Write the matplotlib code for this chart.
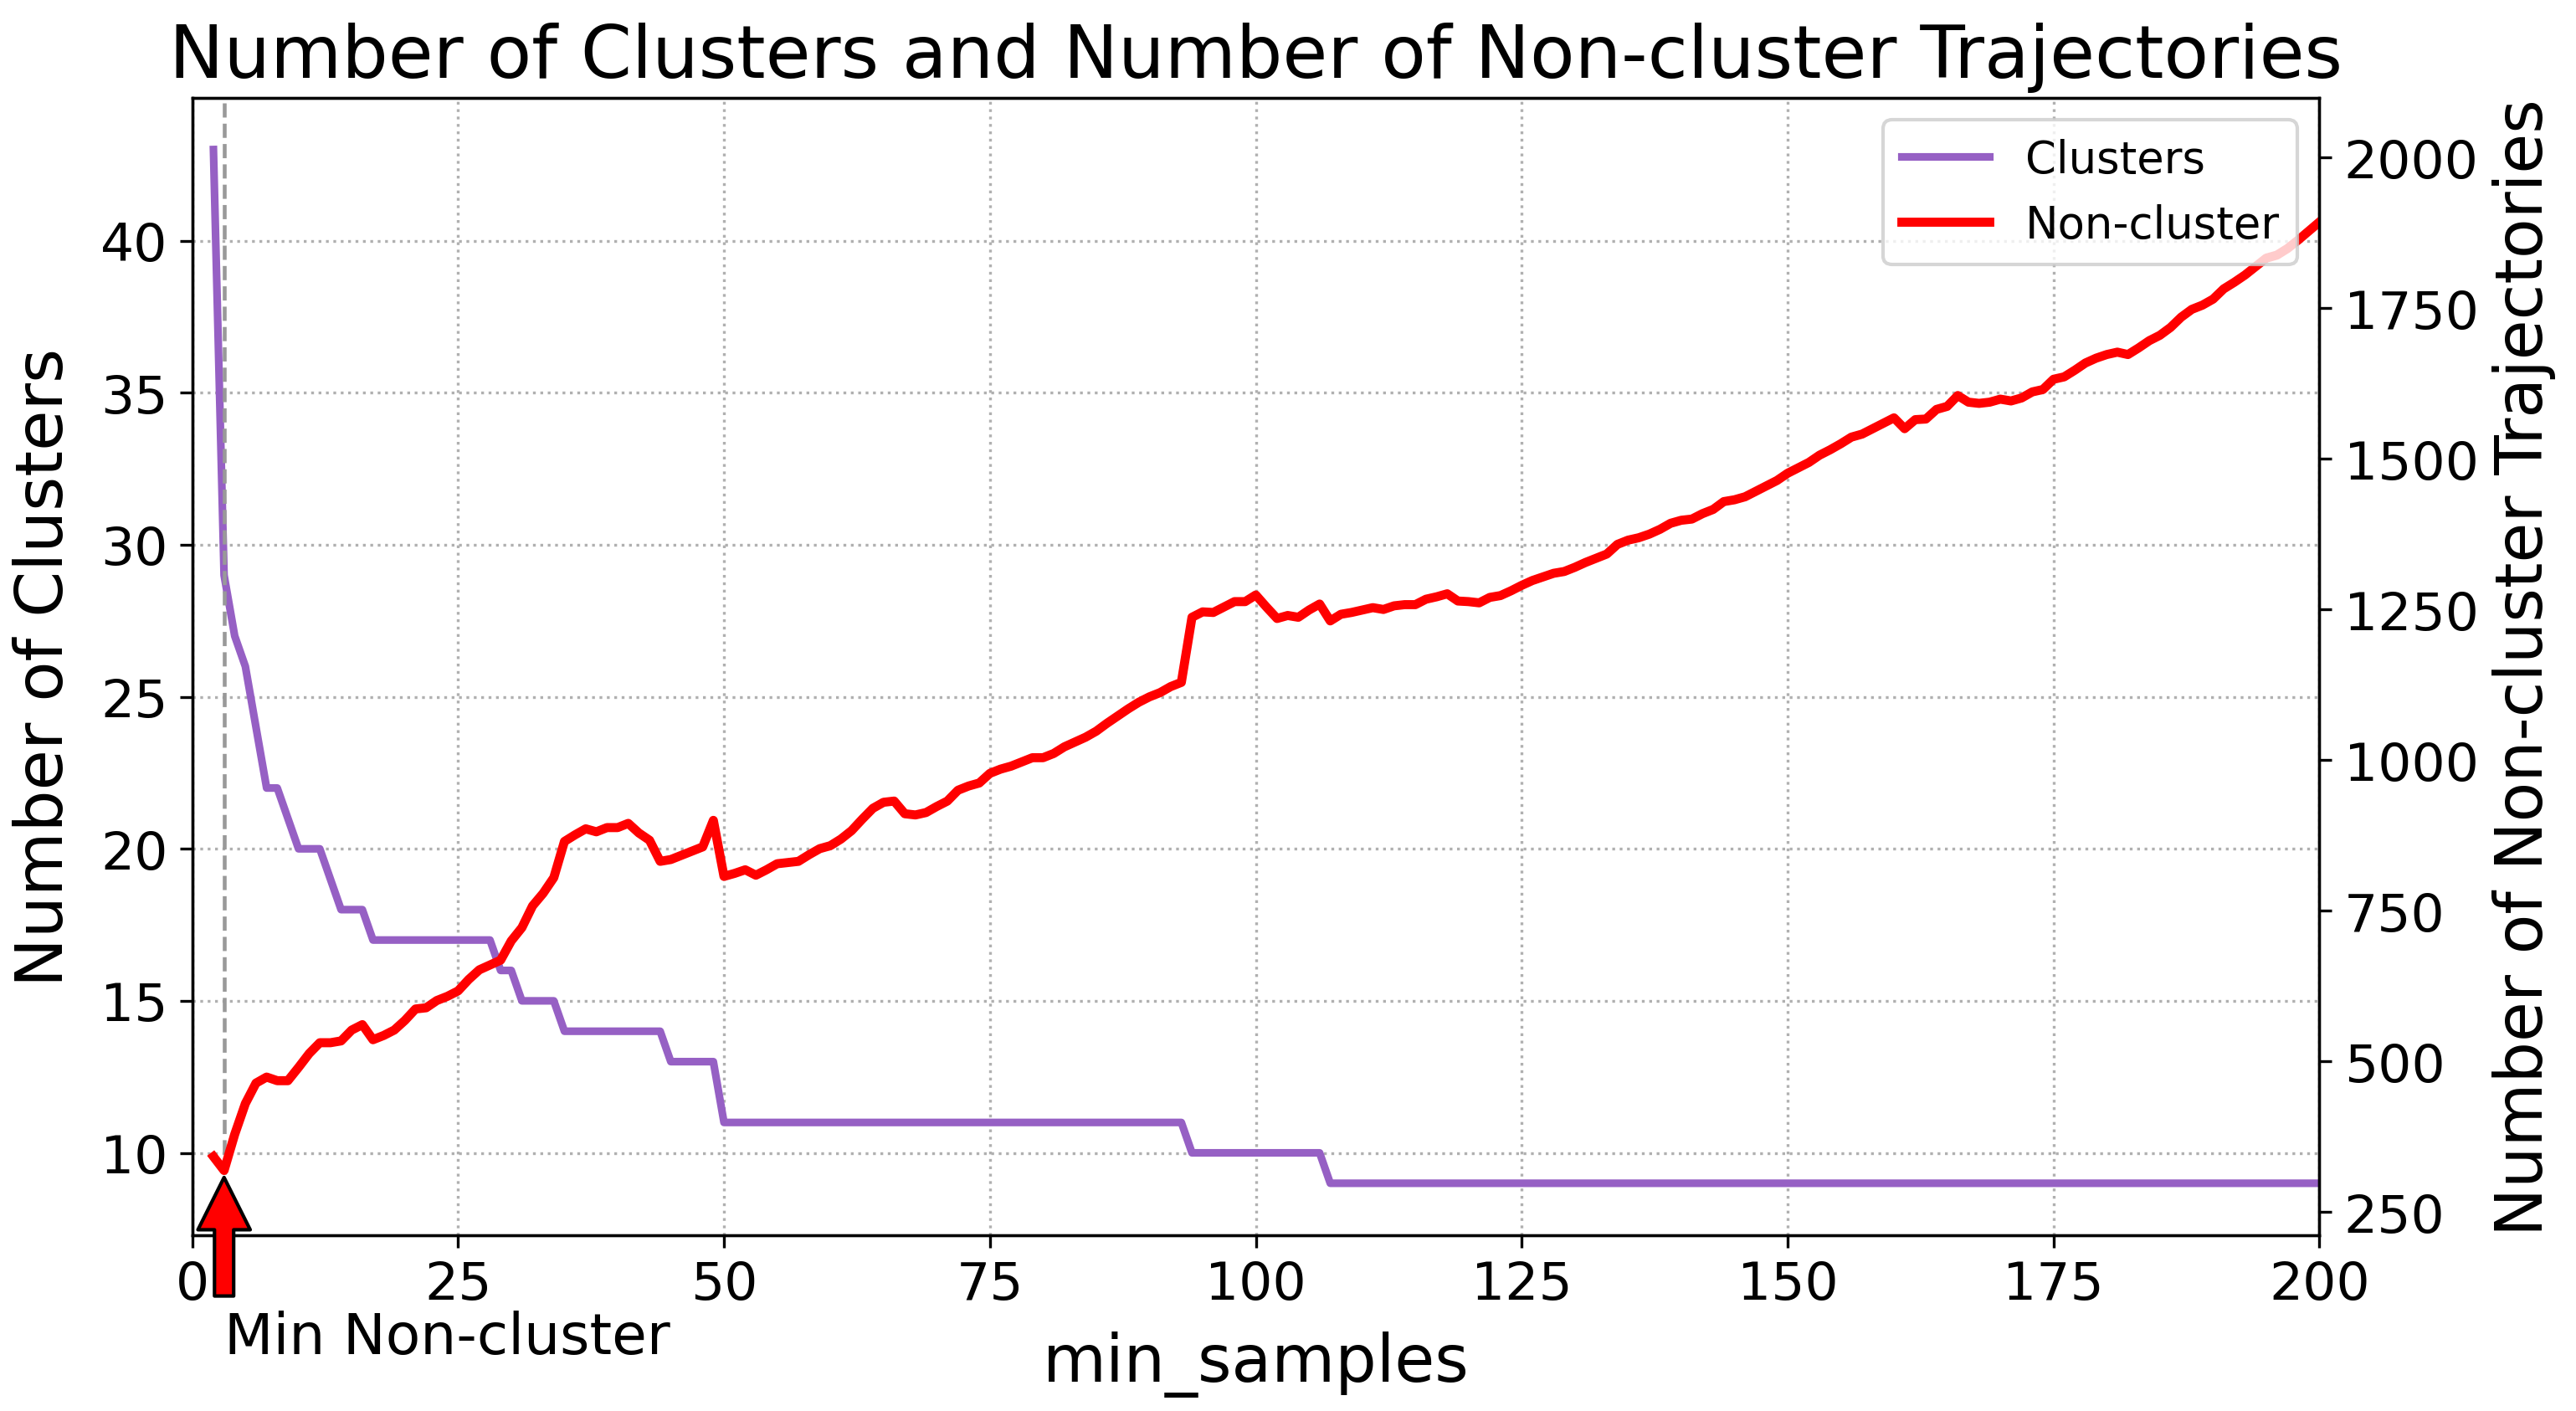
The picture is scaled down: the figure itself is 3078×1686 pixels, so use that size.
import numpy as np
import matplotlib
matplotlib.use("Agg")
from matplotlib import pyplot as plt

# min_samples sweep
min_samples = list(range(2, 201))

# number of clusters for each min_samples
clusters = ([43, 29, 27, 26, 24, 22, 22, 21, 20, 20, 20, 19, 18, 18, 18]
            + [17] * 12 + [16] * 2 + [15] * 4 + [14] * 10 + [13] * 5
            + [11] * 44 + [10] * 13 + [9] * 94)

# number of non-cluster trajectories for each min_samples
non_cluster = [
    342, 319, 379, 430, 464, 474, 468, 468, 490, 513,
    531, 531, 534, 552, 561, 536, 543, 552, 568, 587,
    589, 601, 608, 617, 636, 652, 660, 668, 700, 722,
    758, 779, 805, 865, 876, 886, 881, 888, 888, 895,
    879, 867, 832, 835, 842, 849, 856, 900, 807, 812,
    818, 809, 818, 828, 830, 832, 843, 853, 858, 869,
    883, 902, 920, 930, 932, 911, 909, 913, 923, 932,
    950, 957, 962, 978, 985, 990, 997, 1004, 1004, 1011,
    1022, 1030, 1038, 1048, 1061, 1073, 1085, 1096, 1105, 1112,
    1122, 1129, 1237, 1246, 1245, 1254, 1263, 1263, 1274, 1254,
    1235, 1240, 1237, 1249, 1259, 1231, 1242, 1245, 1249, 1253,
    1250, 1256, 1258, 1258, 1267, 1271, 1276, 1264, 1263, 1261,
    1270, 1273, 1281, 1290, 1298, 1304, 1310, 1313, 1320, 1328,
    1335, 1342, 1358, 1365, 1369, 1375, 1383, 1393, 1398, 1400,
    1409, 1416, 1429, 1432, 1437, 1446, 1455, 1464, 1476, 1485,
    1494, 1506, 1515, 1525, 1536, 1541, 1550, 1559, 1568, 1550,
    1565, 1566, 1582, 1587, 1605, 1594, 1592, 1594, 1599, 1596,
    1601, 1611, 1615, 1632, 1636, 1647, 1659, 1667, 1673, 1677,
    1673, 1684, 1696, 1705, 1718, 1735, 1748, 1755, 1765, 1782,
    1793, 1805, 1819, 1833, 1838, 1849, 1863, 1878, 1893,
]

best = min_samples[int(np.argmin(non_cluster))]

fig = plt.figure(figsize=(10.26, 5.6233), dpi=300)
ax1 = fig.add_axes([0.0746, 0.1247, 0.8258, 0.8054])

l1, = ax1.plot(min_samples, clusters, color='#9660c4', lw=2.2, label='Clusters')
ax1.axvline(best, color='#999999', linestyle='--', lw=1.1)
ax1.set_xlim(0, 200)
ax1.set_xticks([0, 25, 50, 75, 100, 125, 150, 175, 200])
ax1.set_yticks([10, 15, 20, 25, 30, 35, 40])
ax1.grid(True, linestyle=':')
ax1.set_xlabel('min_samples', fontsize=18.7, labelpad=6)
ax1.set_ylabel('Number of Clusters', fontsize=18.9, labelpad=7)
ax1.tick_params(labelsize=15.2)

ax2 = ax1.twinx()
l2, = ax2.plot(min_samples, non_cluster, color='red', lw=2.6, label='Non-cluster')
ax2.set_ylim(212, 2099)
ax2.set_yticks([250, 500, 750, 1000, 1250, 1500, 1750, 2000])
ax2.set_ylabel('Number of Non-cluster Trajectories', fontsize=18.7)
ax2.tick_params(labelsize=15.2)

ax2.annotate('Min Non-cluster', xy=(best, min(non_cluster)), xytext=(0, -40),
             textcoords='offset points', ha='left', va='top', fontsize=16.3,
             arrowprops=dict(facecolor='red', edgecolor='black', shrink=0.05,
                             width=5.5, headwidth=15, headlength=15))

ax2.legend([l1, l2], ['Clusters', 'Non-cluster'], loc='upper right', fontsize=12.7)
ax1.set_title('Number of Clusters and Number of Non-cluster Trajectories', fontsize=21)

fig.savefig('out.png', dpi=300)
